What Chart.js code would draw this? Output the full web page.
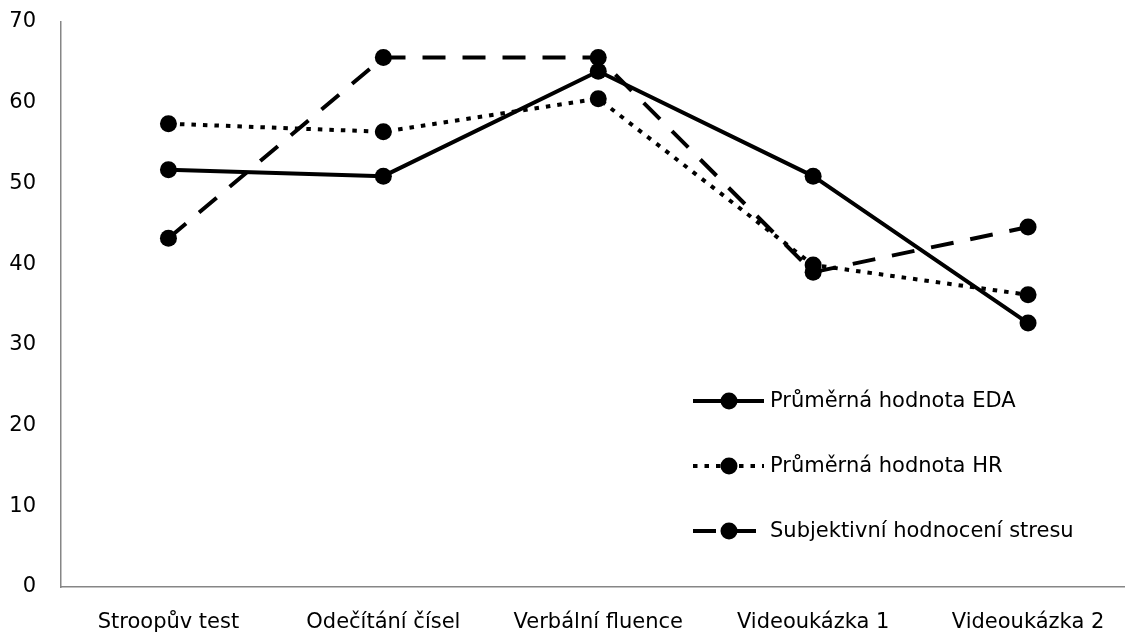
<!DOCTYPE html>
<html>
<head>
<meta charset="utf-8">
<script src="https://cdn.jsdelivr.net/npm/chart.js@4.4.1/dist/chart.umd.min.js"></script>
<style>
  html, body { margin: 0; padding: 0; background: #fff; overflow: hidden; }
  #wrap { position: relative; width: 1144px; height: 633px; }
</style>
</head>
<body>
<div id="wrap"><canvas id="c"></canvas></div>
<script>
// Test categories
const categories = ['Stroopův test', 'Odečítání čísel', 'Verbální fluence', 'Videoukázka 1', 'Videoukázka 2'];

// Mean values per test
const edaValues = [51.7, 50.9, 63.9, 50.9, 32.7];
const hrValues = [57.4, 56.4, 60.5, 39.9, 36.2];
const stressValues = [43.2, 65.6, 65.6, 39.0, 44.6];

const seriesLabels = ['Průměrná hodnota EDA', 'Průměrná hodnota HR', 'Subjektivní hodnocení stresu'];
const yTicks = [0, 10, 20, 30, 40, 50, 60, 70];

const FONT = '"DejaVu Sans", "Open Sans", sans-serif';
const FONT_SIZE = 21;

function lineSeries(label, data, dash) {
  return {
    label: label,
    data: data,
    borderColor: '#000',
    backgroundColor: '#000',
    borderWidth: 4,
    borderDash: dash,
    borderCapStyle: 'butt',
    borderJoinStyle: 'round',
    pointRadius: 8.5,
    pointHoverRadius: 8.5,
    pointBackgroundColor: '#000',
    pointBorderColor: '#000',
    pointBorderWidth: 0,
    tension: 0,
    fill: false
  };
}

// Legend drawn inside the plot, bottom right
const insideLegend = {
  id: 'insideLegend',
  afterDraw(chart) {
    const ctx = chart.ctx;
    const rows = [401, 466, 531];
    const x0 = 693, x1 = 764, cx = 729;
    chart.data.datasets.forEach((ds, i) => {
      const y = rows[i];
      ctx.save();
      ctx.strokeStyle = ds.borderColor;
      ctx.lineWidth = ds.borderWidth;
      ctx.lineCap = 'butt';
      ctx.setLineDash(ds.borderDash || []);
      ctx.beginPath();
      ctx.moveTo(x0, y);
      ctx.lineTo(x1, y);
      ctx.stroke();
      ctx.setLineDash([]);
      ctx.fillStyle = ds.pointBackgroundColor;
      ctx.beginPath();
      ctx.arc(cx, y, ds.pointRadius, 0, Math.PI * 2);
      ctx.fill();
      ctx.fillStyle = '#000';
      ctx.font = FONT_SIZE + 'px ' + FONT;
      ctx.textAlign = 'left';
      ctx.textBaseline = 'middle';
      ctx.fillText(ds.label, 770, y + 1);
      ctx.restore();
    });
  }
};

new Chart(document.getElementById('c'), {
  type: 'line',
  data: {
    labels: categories,
    datasets: [
      lineSeries(seriesLabels[0], edaValues, []),
      lineSeries(seriesLabels[1], hrValues, [4.5, 7]),
      lineSeries(seriesLabels[2], stressValues, [23, 17])
    ]
  },
  options: {
    responsive: true,
    maintainAspectRatio: false,
    animation: false,
    events: [],
    layout: { padding: { top: 22, right: 1, left: 0, bottom: 0 } },
    plugins: {
      legend: { display: false },
      tooltip: { enabled: false }
    },
    scales: {
      x: {
        offset: true,
        grid: { display: false, drawTicks: false },
        border: { display: true, color: '#868686', width: 1.5 },
        ticks: {
          color: '#000',
          font: { family: FONT, size: FONT_SIZE },
          padding: 23,
          maxRotation: 0,
          autoSkip: false
        },
        afterFit(scale) { scale.height = 46; }
      },
      y: {
        min: 0,
        max: 70,
        afterBuildTicks(scale) { scale.ticks = yTicks.map(v => ({ value: v })); },
        grid: { display: false, drawTicks: false },
        border: { display: true, color: '#868686', width: 1.5 },
        ticks: {
          color: '#000',
          font: { family: FONT, size: FONT_SIZE },
          padding: 25
        },
        afterFit(scale) {
          scale.width = 61;
          scale.paddingTop = 0;
          scale.paddingBottom = 0;
        }
      }
    }
  },
  plugins: [insideLegend]
});
</script>
</body>
</html>
